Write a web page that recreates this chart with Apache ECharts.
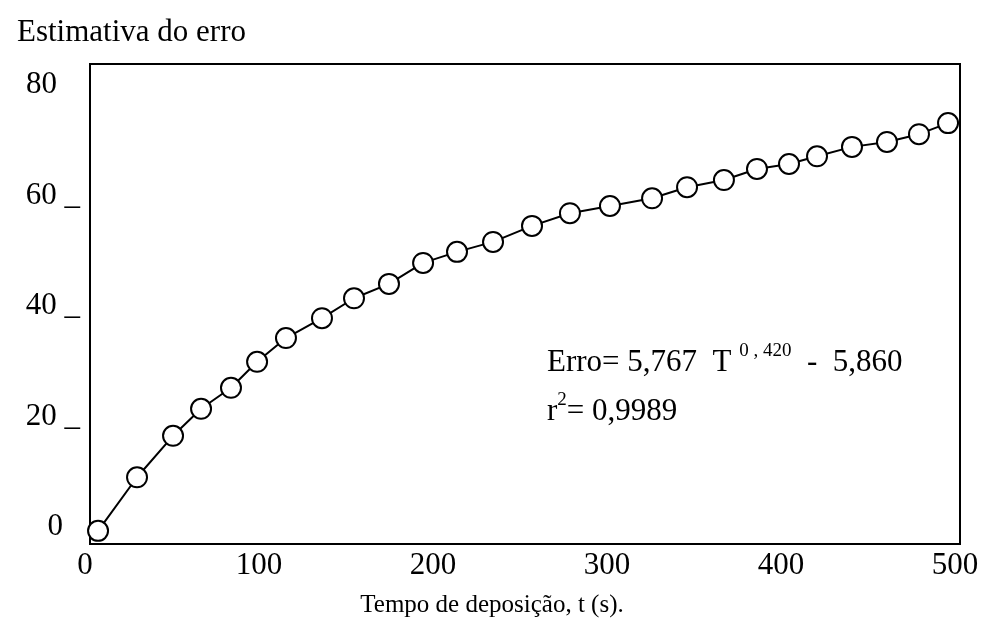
<!DOCTYPE html>
<html>
<head>
<meta charset="utf-8">
<script src="https://cdn.jsdelivr.net/npm/echarts@6/dist/echarts.min.js"></script>
<style>
  html, body { margin: 0; padding: 0; background: #fff; }
  #chart { width: 984px; height: 635px; }
</style>
</head>
<body>
<div id="chart"></div>
<script>
// tempo de deposição (s)
var tempos = [7.5, 29.9, 50.6, 66.7, 83.9, 98.9, 115.5, 136.2, 154.6, 174.7,
  194.3, 213.8, 234.5, 256.9, 278.7, 301.7, 325.9, 346.0, 367.2, 386.2,
  404.6, 420.7, 440.8, 460.9, 479.3, 496.0];
// estimativa do erro
var erros = [-0.7, 9.0, 16.5, 21.4, 25.2, 29.9, 34.2, 37.8, 41.4, 44.0,
  47.8, 49.8, 51.6, 54.5, 56.8, 58.1, 59.5, 61.5, 62.8, 64.8,
  65.7, 67.1, 68.8, 69.7, 71.1, 73.1];
var xTicks = [0, 100, 200, 300, 400, 500];
var yTicks = [0, 20, 40, 60, 80];

var fonte = "'Liberation Serif', 'Times New Roman', serif";

var pontos = tempos.map(function (t, i) { return [t, erros[i]]; });

var myChart = echarts.init(document.getElementById("chart"));

var option = {
  backgroundColor: "#fff",
  animation: false,
  textStyle: { fontFamily: fonte, color: "#000" },
  title: {
    text: "Estimativa do erro",
    left: 12,
    top: 12,
    textStyle: { fontFamily: fonte, fontSize: 31, fontWeight: "normal", color: "#000" }
  },
  grid: [
    // moldura
    { left: 90, top: 64, width: 870, height: 480, show: true,
      borderColor: "#000", borderWidth: 2, backgroundColor: "transparent" },
    // área dos dados
    { left: 85, top: 85, width: 870, height: 442 }
  ],
  xAxis: [
    { gridIndex: 0, type: "value", show: false, min: 0, max: 1 },
    {
      gridIndex: 1, type: "value",
      min: xTicks[0], max: xTicks[xTicks.length - 1], interval: 100,
      axisLine: { show: false }, axisTick: { show: false }, splitLine: { show: false },
      axisLabel: { fontFamily: fonte, fontSize: 31, color: "#000", margin: 23 },
      name: "Tempo de deposição, t (s).",
      nameLocation: "middle",
      nameGap: 66,
      nameTextStyle: { fontFamily: fonte, fontSize: 25, color: "#000", padding: [0, 56, 0, 0] }
    }
  ],
  yAxis: [
    { gridIndex: 0, type: "value", show: false, min: 0, max: 1 },
    {
      gridIndex: 1, type: "value",
      min: yTicks[0], max: yTicks[yTicks.length - 1], interval: 20,
      axisLine: { show: false }, axisTick: { show: false }, splitLine: { show: false },
      axisLabel: {
        fontFamily: fonte, fontSize: 31, color: "#000", margin: 5,
        formatter: function (v) {
          if (v === 0) return "{z|0}";
          if (v === 80) return "{e|80}";
          return v + " _";
        },
        rich: {
          z: { fontFamily: fonte, fontSize: 31, color: "#000", padding: [0, 17, 0, 0] },
          e: { fontFamily: fonte, fontSize: 31, color: "#000", padding: [0, 23, 0, 0] }
        }
      }
    }
  ],
  series: [
    {
      type: "line",
      xAxisIndex: 1,
      yAxisIndex: 1,
      data: pontos,
      clip: false,
      symbol: "circle",
      symbolSize: 20,
      lineStyle: { color: "#000", width: 2 },
      itemStyle: { color: "#fff", borderColor: "#000", borderWidth: 2 },
      z: 3
    }
  ],
  graphic: [
    {
      type: "text",
      left: 547,
      top: 342,
      style: {
        text: "{b|Erro= 5,767  T }{s|0 , 420}{b|  -  5,860}",
        rich: {
          b: { fontFamily: fonte, fontSize: 31, fill: "#000", verticalAlign: "bottom", lineHeight: 36 },
          s: { fontFamily: fonte, fontSize: 19, fill: "#000", verticalAlign: "top", lineHeight: 36, padding: [0, 0, 14, 0] }
        }
      }
    },
    {
      type: "text",
      left: 547,
      top: 391,
      style: {
        text: "{b|r}{s|2}{b|= 0,9989}",
        rich: {
          b: { fontFamily: fonte, fontSize: 31, fill: "#000", verticalAlign: "bottom", lineHeight: 36 },
          s: { fontFamily: fonte, fontSize: 19, fill: "#000", verticalAlign: "top", lineHeight: 36, padding: [0, 0, 14, 0] }
        }
      }
    }
  ]
};

myChart.setOption(option);
</script>
</body>
</html>
